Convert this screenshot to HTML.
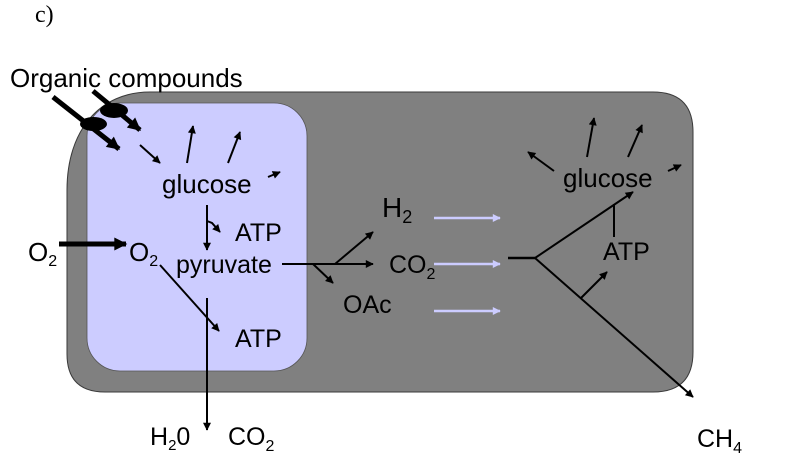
<!DOCTYPE html>
<html>
<head>
<meta charset="utf-8">
<style>
  html,body{margin:0;padding:0;background:#fff;}
  svg{display:block;}
  text{font-family:"Liberation Sans", Arial, sans-serif;fill:#000;}
</style>
</head>
<body>
<svg width="800" height="455" viewBox="0 0 800 455" xmlns="http://www.w3.org/2000/svg">
  <defs>
    <marker id="a" viewBox="0 0 10 10" refX="9" refY="5" markerWidth="10" markerHeight="8" markerUnits="userSpaceOnUse" orient="auto">
      <path d="M0,0 L10,5 L0,10 z" fill="#000"/>
    </marker>
    <marker id="t" viewBox="0 0 10 10" refX="9" refY="5" markerWidth="15" markerHeight="13" markerUnits="userSpaceOnUse" orient="auto">
      <path d="M0,0 L10,5 L0,10 z" fill="#000"/>
    </marker>
    <marker id="l" viewBox="0 0 10 10" refX="9" refY="5" markerWidth="10" markerHeight="8" markerUnits="userSpaceOnUse" orient="auto">
      <path d="M0,0 L10,5 L0,10 z" fill="#ccccff"/>
    </marker>
  </defs>

  <!-- c) label -->
  <text x="35" y="22" style="font-family:'Liberation Serif','Times New Roman',serif" font-size="24">c)</text>

  <!-- gray cell -->
  <path d="M150,92 L653,92 Q693,92 693,132 L693,352 Q693,392 653,392 L105,392 Q67,392 67,354 L67,190 C67,130 100,92 150,92 Z" fill="#808080" stroke="#3a3a3a" stroke-width="1"/>

  <!-- purple inner -->
  <rect x="87" y="103" width="220" height="268" rx="33" ry="33" fill="#ccccff" stroke="#555" stroke-width="0.8"/>

  <!-- Organic compounds -->
  <text x="10" y="87" font-size="26">Organic compounds</text>

  <!-- thick arrows from organic compounds -->
  <line x1="53" y1="97" x2="119" y2="149" stroke="#000" stroke-width="5" marker-end="url(#t)"/>
  <line x1="93" y1="91" x2="140" y2="130" stroke="#000" stroke-width="5" marker-end="url(#t)"/>
  <ellipse cx="93.5" cy="124" rx="13.5" ry="7" fill="#000"/>
  <ellipse cx="114" cy="110.5" rx="14" ry="7.5" fill="#000"/>

  <!-- left glucose -->
  <text x="162" y="193" font-size="26">glucose</text>
  <g stroke="#000" stroke-width="2" fill="none">
    <line x1="140" y1="145" x2="160" y2="163" marker-end="url(#a)"/>
    <line x1="187" y1="163" x2="193" y2="126" marker-end="url(#a)"/>
    <line x1="228" y1="163" x2="240" y2="132" marker-end="url(#a)"/>
    <line x1="268" y1="177" x2="280" y2="172" marker-end="url(#a)"/>
    <line x1="207" y1="205" x2="207" y2="250" marker-end="url(#a)"/>
    <path d="M207,221 L212,223 L220,232" marker-end="url(#a)"/>
    <line x1="160" y1="265" x2="219" y2="331" marker-end="url(#a)"/>
    <line x1="207" y1="298" x2="207" y2="430" marker-end="url(#a)"/>
    <line x1="282" y1="264" x2="373" y2="264" marker-end="url(#a)"/>
    <line x1="335" y1="264" x2="373" y2="232" marker-end="url(#a)"/>
    <line x1="313" y1="264" x2="333" y2="283" marker-end="url(#a)"/>
  </g>

  <text x="235" y="241" font-size="25">ATP</text>
  <text x="235" y="347" font-size="25">ATP</text>

  <!-- O2 arrows -->
  <text x="28" y="261" font-size="26">O<tspan font-size="16" dy="5">2</tspan></text>
  <line x1="59" y1="244" x2="126" y2="244" stroke="#000" stroke-width="5" marker-end="url(#t)"/>
  <text x="129" y="261" font-size="26">O<tspan font-size="16" dy="5">2</tspan></text>

  <text x="176" y="273" font-size="25">pyruvate</text>

  <!-- middle products -->
  <text x="382" y="217" font-size="28">H<tspan font-size="18" dy="6">2</tspan></text>
  <text x="389" y="273" font-size="25">CO<tspan font-size="16" dy="6">2</tspan></text>
  <text x="343" y="313" font-size="25">OAc</text>

  <!-- lavender arrows -->
  <g stroke="#ccccff" stroke-width="2.5">
    <line x1="434" y1="218" x2="500" y2="218" marker-end="url(#l)"/>
    <line x1="434" y1="264" x2="500" y2="264" marker-end="url(#l)"/>
    <line x1="434" y1="311" x2="500" y2="311" marker-end="url(#l)"/>
  </g>

  <!-- right part -->
  <text x="563" y="187" font-size="26">glucose</text>
  <text x="603" y="260" font-size="25">ATP</text>
  <g stroke="#000" stroke-width="2" fill="none">
    <line x1="508" y1="258" x2="535" y2="258" stroke-width="2.5"/>
    <line x1="535" y1="258" x2="633" y2="192" marker-end="url(#a)"/>
    <line x1="535" y1="258" x2="693" y2="397" marker-end="url(#a)"/>
    <line x1="614" y1="204" x2="614" y2="237"/>
    <line x1="581" y1="298" x2="607" y2="272" marker-end="url(#a)"/>
    <line x1="554" y1="171" x2="528" y2="152" marker-end="url(#a)"/>
    <line x1="587" y1="157" x2="594" y2="118" marker-end="url(#a)"/>
    <line x1="628" y1="157" x2="642" y2="125" marker-end="url(#a)"/>
    <line x1="668" y1="171" x2="681" y2="165" marker-end="url(#a)"/>
  </g>

  <!-- bottom labels -->
  <text x="150" y="445" font-size="25">H<tspan font-size="15" dy="5">2</tspan><tspan dy="-5">0</tspan></text>
  <text x="228" y="445" font-size="25">CO<tspan font-size="16" dy="6">2</tspan></text>
  <text x="697" y="447" font-size="25">CH<tspan font-size="16" dy="6">4</tspan></text>
</svg>
</body>
</html>
